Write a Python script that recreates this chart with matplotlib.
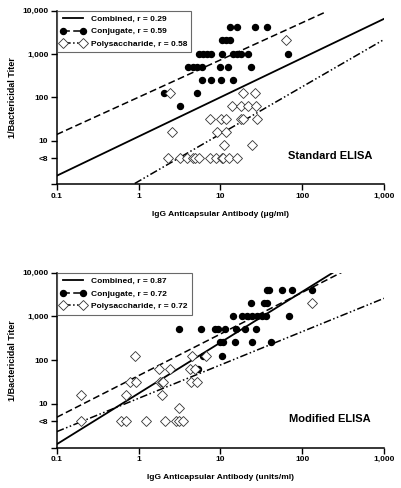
import numpy as np
import matplotlib
matplotlib.use("Agg")
import matplotlib.pyplot as plt
from matplotlib.lines import Line2D

plt.rcParams['font.family'] = ['Liberation Sans', 'DejaVu Sans']
plt.rcParams['font.weight'] = 'bold'

# ---------------- data: Standard ELISA (top) ----------------
std_conj_x = [13.1, 16.1, 26.5, 37.5,
              10.4, 11.6, 13.0,
              5.48, 6.2, 6.9, 7.8, 10.4, 14.4, 16.1, 17.7, 22.0, 67.8,
              4.06, 4.59, 5.19, 5.91, 9.9, 12.3, 23.5,
              6.03, 7.69, 10.3, 14.4,
              2.05, 5.24,
              3.21]
std_conj_y = [4096] * 4 + [2048] * 3 + [1024] * 10 + [512] * 7 + [256] * 4 + [128] * 2 + [64]

std_poly_x = [62.8,
              2.43, 18.7, 26.5,
              14.0, 17.7, 22.0, 27.0,
              7.48, 10.1, 11.7, 17.7, 18.7, 27.8,
              2.54, 9.2, 11.6,
              11.1, 24.6,
              2.27, 3.21, 3.88, 4.68, 4.90, 5.48, 7.48, 8.77, 10.4, 10.9, 12.8, 15.8]
std_poly_y = [2048] + [128] * 3 + [64] * 4 + [32] * 6 + [16] * 3 + [8] * 2 + [4] * 12

# ---------------- data: Modified ELISA (bottom) ----------------
mod_conj_x = [36.8, 39.7, 56.1, 74.4, 130.6,
              23.5, 34.5, 36.8,
              14.4, 18.2, 21.0, 24.2, 27.8, 32.0, 36.1, 69.7,
              3.13, 5.81, 8.61, 9.46, 11.4, 15.4, 20.0, 27.0,
              9.9, 10.9, 15.1, 24.2, 41.2,
              6.2, 10.4,
              5.28]
mod_conj_y = [4096] * 5 + [2048] * 3 + [1024] * 8 + [512] * 8 + [256] * 5 + [128] * 2 + [64]

mod_poly_x = [133.0,
              0.906, 4.47, 6.68,
              1.80, 2.43, 4.26, 4.9,
              0.787, 0.93, 1.83, 1.92, 2.01, 4.34, 5.14,
              0.196, 0.703, 1.92,
              3.15,
              0.196, 0.605, 0.703, 1.24, 2.11, 2.87, 3.15, 3.53]
mod_poly_y = [2048] + [128] * 3 + [64] * 4 + [32] * 7 + [16] * 3 + [8] + [4] * 8

# regression lines: log10(y) = a + b*log10(x), drawn over [x0, x1]
std_lines = {
    'Combined, r = 0.29':       (1.100, 0.903, 0.1, 1000),
    'Conjugate, r = 0.59':      (2.005, 0.858, 0.1, 200),
    'Polysaccharide, r = 0.58': (0.069, 1.088, 0.1, 1000),
}
mod_lines = {
    'Combined, r = 0.87':       (1.240, 1.162, 0.1, 248),
    'Conjugate, r = 0.72':      (1.646, 0.951, 0.1, 313),
    'Polysaccharide, r = 0.72': (1.128, 0.762, 0.1, 1000),
}

y_ticks = [1, 4, 10, 100, 1000, 10000]
y_labels = ['', '<8', '10', '100', '1,000', '10,000']
x_ticks = [0.1, 1, 10, 100, 1000]
x_labels = ['0.1', '1', '10', '100', '1,000']

styles = ['-', (0, (4.5, 2.2)), (0, (5, 1.6, 1, 1.6, 1, 1.6))]

fig = plt.figure(figsize=(4.01, 4.88), dpi=100)
ax1 = fig.add_axes([0.1414, 0.6223, 0.816, 0.356])
ax2 = fig.add_axes([0.1414, 0.0826, 0.816, 0.3586])


def panel(ax, cx, cy, px, py, lines, title, xlabel):
    ax.set_xscale('log')
    ax.set_yscale('log')
    for (name, (a, b, x0, x1)), ls in zip(lines.items(), styles):
        xs = np.array([x0, x1])
        ax.plot(xs, 10 ** (a + b * np.log10(xs)), color='black', ls=ls,
                lw=1.3 if ls == '-' else 1.1, zorder=2)
    ax.plot(cx, cy, 'o', ms=4.3, color='black', ls='none', zorder=3)
    ax.plot(px, py, 'D', ms=4.9, mfc='white', mec='#333333', mew=0.6,
            ls='none', zorder=3)
    ax.set_xlim(0.1, 1000)
    ax.set_ylim(1, 10000)
    ax.set_xticks(x_ticks)
    ax.set_xticklabels(x_labels)
    ax.set_yticks(y_ticks)
    ax.set_yticklabels(y_labels)
    ax.minorticks_off()
    ax.tick_params(direction='out', length=4, width=1, labelsize=6, pad=2)
    for s in ['top', 'right']:
        ax.spines[s].set_visible(False)
    for s in ['left', 'bottom']:
        ax.spines[s].set_linewidth(1.1)
    ax.set_ylabel('1/Bactericidal Titer', fontsize=6.5, fontweight='bold', labelpad=4)
    ax.set_xlabel(xlabel, fontsize=6, fontweight='bold', labelpad=8)
    ax.text(0.835, 0.165, title, transform=ax.transAxes, fontsize=8,
            fontweight='bold', ha='center', va='center')
    names = list(lines.keys())
    handles = [
        Line2D([], [], color='black', ls='-', lw=1.3),
        Line2D([], [], color='black', ls=styles[1], lw=1.1, marker='o', ms=4.3),
        Line2D([], [], color='black', ls=styles[2], lw=1.1, marker='D', ms=4.9,
               mfc='white', mec='#333333', mew=0.6),
    ]
    leg = ax.legend(handles, names, loc='upper left', bbox_to_anchor=(0, 1),
                    borderaxespad=0, numpoints=2, handlelength=3.0,
                    handletextpad=0.6, labelspacing=0.6, borderpad=0.5,
                    fancybox=False, prop={'size': 6, 'weight': 'bold'})
    leg.get_frame().set_edgecolor('#444444')
    leg.get_frame().set_linewidth(0.8)


panel(ax1, std_conj_x, std_conj_y, std_poly_x, std_poly_y, std_lines,
      'Standard ELISA', 'IgG Anticapsular Antibody (\u03bcg/ml)')
panel(ax2, mod_conj_x, mod_conj_y, mod_poly_x, mod_poly_y, mod_lines,
      'Modified ELISA', 'IgG Anticapsular Antibody (units/ml)')

fig.savefig('out.png', dpi=100)
